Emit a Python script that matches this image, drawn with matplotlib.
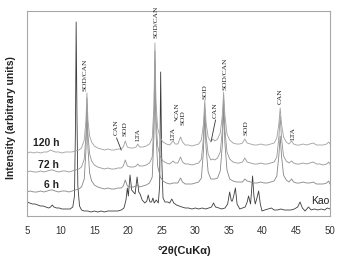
import matplotlib
matplotlib.use("Agg")
import matplotlib.pyplot as plt

# XRD patterns: 2theta (deg) and intensity (arbitrary, stacked)
tt_120h = [5.0, 5.5, 6.0, 6.5, 7.0, 7.5, 8.0, 8.5, 8.8, 9.2, 9.7, 10.2, 10.7, 11.2, 11.7, 12.2, 12.7,
           13.1, 13.5, 13.75, 13.9, 14.05, 14.3, 14.6, 15.0, 15.5, 16.0, 16.5, 17.0, 17.5, 18.0, 18.5,
           19.0, 19.3, 19.6, 19.9, 20.3, 20.8, 21.2, 21.45, 21.7, 22.2, 22.7, 23.2, 23.6, 23.85, 24.0,
           24.15, 24.4, 24.8, 25.2, 25.7, 26.2, 26.7, 27.0, 27.4, 27.8, 28.1, 28.5, 29.0, 29.5, 30.0,
           30.5, 30.9, 31.2, 31.4, 31.6, 31.9, 32.3, 32.6, 32.9, 33.3, 33.7, 34.0, 34.2, 34.4, 34.7,
           35.1, 35.6, 36.1, 36.6, 37.0, 37.35, 37.7, 38.2, 38.7, 39.2, 39.7, 40.2, 40.7, 41.2, 41.7,
           42.1, 42.4, 42.6, 42.8, 43.1, 43.5, 43.9, 44.3, 44.6, 45.0, 45.5, 46.0, 46.5, 47.0, 47.5,
           48.0, 48.5, 49.0, 49.5, 49.8, 50.0]
i_120h = [63, 64, 63, 64, 63, 64, 64, 66, 65, 64, 64, 63, 64, 64, 64, 65, 66,
          68, 76, 95, 123, 96, 80, 74, 70, 68, 67, 66, 67, 66, 66, 67,
          67, 69, 75, 69, 68, 68, 69, 72, 69, 69, 70, 72, 78, 110, 173,
          115, 88, 78, 74, 72, 71, 75, 72, 72, 79, 74, 71, 71, 70, 71,
          72, 76, 92, 116, 93, 79, 74, 77, 75, 77, 83, 100, 124, 100, 82,
          76, 73, 72, 72, 73, 77, 73, 72, 71, 71, 72, 71, 71, 72, 73,
          78, 92, 108, 92, 79, 74, 72, 75, 72, 71, 71, 72, 71, 72, 73,
          71, 71, 71, 72, 74, 72]

tt_72h = [5.0, 5.5, 6.0, 6.5, 7.0, 7.5, 8.0, 8.5, 8.8, 9.2, 9.7, 10.2, 10.7, 11.2, 11.7, 12.2, 12.7,
          13.1, 13.5, 13.75, 13.9, 14.05, 14.3, 14.6, 15.0, 15.5, 16.0, 16.5, 17.0, 17.5, 18.0, 18.5,
          19.0, 19.3, 19.6, 19.9, 20.3, 20.8, 21.2, 21.45, 21.7, 22.2, 22.7, 23.2, 23.6, 23.85, 24.0,
          24.15, 24.4, 24.8, 25.2, 25.7, 26.2, 26.7, 27.0, 27.4, 27.8, 28.1, 28.5, 29.0, 29.5, 30.0,
          30.5, 30.9, 31.2, 31.4, 31.6, 31.9, 32.3, 32.6, 32.9, 33.3, 33.7, 34.0, 34.2, 34.4, 34.7,
          35.1, 35.6, 36.1, 36.6, 37.0, 37.35, 37.7, 38.2, 38.7, 39.2, 39.7, 40.2, 40.7, 41.2, 41.7,
          42.1, 42.4, 42.6, 42.8, 43.1, 43.5, 43.9, 44.3, 44.6, 45.0, 45.5, 46.0, 46.5, 47.0, 47.5,
          48.0, 48.5, 49.0, 49.5, 49.8, 50.0]
i_72h = [44, 45, 44, 44, 45, 44, 45, 46, 46, 45, 44, 45, 45, 44, 45, 46, 47,
         49, 57, 80, 118, 82, 62, 55, 51, 49, 48, 47, 48, 47, 47, 48,
         48, 50, 56, 50, 49, 49, 50, 52, 50, 50, 51, 53, 59, 95, 165,
         100, 70, 59, 55, 53, 52, 55, 53, 53, 59, 54, 52, 52, 51, 52,
         53, 57, 78, 108, 80, 62, 56, 57, 56, 58, 64, 85, 116, 86, 64,
         57, 54, 53, 53, 54, 58, 54, 53, 52, 52, 53, 52, 52, 53, 54,
         59, 78, 100, 78, 60, 55, 53, 55, 53, 52, 52, 53, 52, 53, 54,
         52, 52, 51, 52, 54, 52]

tt_6h = [5.0, 5.5, 6.0, 6.5, 7.0, 7.5, 8.0, 8.5, 8.8, 9.2, 9.7, 10.2, 10.7, 11.2, 11.7, 12.2, 12.7,
         13.1, 13.5, 13.75, 13.9, 14.05, 14.3, 14.6, 15.0, 15.5, 16.0, 16.5, 17.0, 17.5, 18.0, 18.5,
         19.0, 19.3, 19.6, 19.9, 20.3, 20.8, 21.2, 21.45, 21.7, 22.2, 22.7, 23.2, 23.6, 23.85, 24.0,
         24.15, 24.4, 24.8, 25.2, 25.7, 26.2, 26.7, 27.0, 27.4, 27.8, 28.1, 28.5, 29.0, 29.5, 30.0,
         30.5, 30.9, 31.2, 31.4, 31.6, 31.9, 32.3, 32.6, 32.9, 33.3, 33.7, 34.0, 34.2, 34.4, 34.7,
         35.1, 35.6, 36.1, 36.6, 37.0, 37.35, 37.7, 38.2, 38.7, 39.2, 39.7, 40.2, 40.7, 41.2, 41.7,
         42.1, 42.4, 42.6, 42.8, 43.1, 43.5, 43.9, 44.3, 44.6, 45.0, 45.5, 46.0, 46.5, 47.0, 47.5,
         48.0, 48.5, 49.0, 49.5, 49.8, 50.0]
i_6h = [24, 25, 24, 24, 25, 24, 25, 26, 26, 25, 24, 25, 25, 24, 25, 26, 27,
        29, 37, 65, 110, 68, 43, 35, 31, 29, 28, 27, 28, 27, 27, 28,
        28, 30, 36, 30, 29, 29, 30, 31, 29, 30, 31, 33, 39, 80, 155,
        85, 50, 39, 35, 33, 32, 33, 33, 33, 38, 34, 32, 32, 32, 33,
        34, 38, 65, 100, 68, 44, 37, 37, 37, 38, 45, 70, 108, 72, 46,
        37, 35, 34, 34, 34, 37, 35, 34, 33, 33, 34, 33, 33, 34, 35,
        40, 60, 80, 60, 41, 36, 34, 37, 34, 33, 33, 34, 33, 33, 34,
        32, 32, 32, 33, 35, 32]

tt_kao = [5.0, 5.4, 5.8, 6.2, 6.6, 7.0, 7.4, 7.8, 8.2, 8.5, 8.75, 9.0, 9.4, 9.8, 10.2, 10.6, 11.0,
          11.4, 11.8, 12.05, 12.2, 12.3, 12.42, 12.55, 12.8, 13.1, 13.5, 14.0, 14.5, 15.0, 15.5, 16.0,
          16.5, 17.0, 17.5, 18.0, 18.5, 19.0, 19.4, 19.7, 19.9, 20.05, 20.3, 20.55, 20.8, 21.05, 21.35,
          21.6, 21.8, 22.1, 22.5, 22.8, 23.0, 23.25, 23.5, 23.7, 23.9, 24.2, 24.5, 24.7, 24.85, 25.0,
          25.2, 25.5, 25.9, 26.2, 26.5, 26.8, 27.2, 27.6, 28.0, 28.5, 29.0, 29.5, 30.0, 30.5, 31.0,
          31.5, 32.0, 32.4, 32.7, 33.0, 33.5, 33.9, 34.4, 34.8, 35.1, 35.35, 35.5, 35.7, 35.95, 36.2,
          36.6, 37.0, 37.4, 37.7, 37.9, 38.2, 38.35, 38.5, 38.7, 38.9, 39.15, 39.4, 39.65, 39.9, 40.3,
          40.8, 41.3, 41.7, 42.2, 42.7, 43.2, 43.7, 44.2, 44.7, 45.2, 45.55, 45.9, 46.3, 46.8, 47.2,
          47.7, 48.2, 48.7, 49.2, 49.6, 50.0]
i_kao = [14, 13, 12, 12, 11, 10, 10, 9, 8, 9, 11, 9, 8, 8, 7, 7, 7,
         7, 9, 20, 90, 194, 100, 30, 10, 6, 5, 5, 4, 5, 4, 5,
         4, 5, 5, 5, 5, 6, 8, 16, 28, 20, 41, 26, 24, 22, 39,
         24, 22, 16, 13, 15, 21, 14, 14, 18, 13, 16, 13, 30, 144, 60,
         18, 14, 14, 13, 17, 13, 11, 10, 9, 8, 8, 7, 8, 7, 8,
         7, 8, 9, 13, 9, 8, 7, 8, 12, 24, 15, 15, 20, 28, 12,
         7, 8, 9, 14, 20, 12, 25, 40, 20, 12, 18, 25, 12, 5, 6,
         7, 8, 6, 6, 7, 6, 6, 6, 7, 9, 14, 8, 5, 9, 6,
         7, 6, 7, 6, 8, 7]

# phase labels above the peaks: text, 2theta, intensity at label foot
phase_text = ["SOD/CAN", "CAN", "SOD", "LTA", "SOD/CAN", "LTA", "CAN", "SOD",
              "SOD", "CAN", "SOD/CAN", "SOD", "CAN", "LTA"]
phase_tt = [13.6, 18.2, 19.5, 21.45, 24.1, 26.65, 27.3, 28.2,
            31.4, 33.0, 34.35, 37.5, 42.65, 44.5]
phase_i = [125, 81, 80, 75, 178, 76, 98, 91,
           117, 98, 126, 81, 112, 76]

# short leader lines (2theta pairs, intensity pairs)
leader_tt = [[18.3, 19.0], [26.9, 27.25], [33.0, 32.35]]
leader_i = [[78, 66], [95, 97], [96, 75]]

series_labels = ["120 h", "72 h", "6 h"]
series_label_i = [72.5, 51, 31]

fig = plt.figure(figsize=(3.43, 2.58), dpi=100)
ax = fig.add_axes([27 / 343, 42 / 258, 303 / 343, 205 / 258])

ax.plot(tt_kao, i_kao, color="#3c3c3c", lw=0.6)
ax.plot(tt_6h, i_6h, color="#858585", lw=0.6)
ax.plot(tt_72h, i_72h, color="#959595", lw=0.6)
ax.plot(tt_120h, i_120h, color="#a0a0a0", lw=0.6)

for t, x, y in zip(phase_text, phase_tt, phase_i):
    ax.text(x, y, t, rotation=90, ha="center", va="bottom", fontsize=5.3,
            family="Liberation Serif", color="#222222")
for xs, ys in zip(leader_tt, leader_i):
    ax.plot(xs, ys, color="#333333", lw=0.6)

for t, y in zip(series_labels, series_label_i):
    ax.text(9.8, y, t, ha="right", va="center", fontsize=7.5, fontweight="bold",
            family="Liberation Sans", color="#222222")
ax.text(49.85, 15, "Kao", ha="right", va="center", fontsize=7.5,
        family="Liberation Sans", color="#222222")

ax.set_xlim(5, 50)
ax.set_ylim(0, 205)
ax.set_xticks([5, 10, 15, 20, 25, 30, 35, 40, 45, 50])
ax.set_yticks([])
ax.tick_params(axis="x", length=0, pad=7, labelsize=7, labelcolor="#333333")
for lab in ax.get_xticklabels():
    lab.set_family("Liberation Sans")
for s in ax.spines.values():
    s.set_color("#a8a8a8")
    s.set_linewidth(0.8)

ax.set_xlabel("°2θ(CuKα)", fontsize=8, fontweight="bold", family="Liberation Sans",
              color="#222222")
ax.xaxis.set_label_coords(0.52, -0.145)
ax.set_ylabel("Intensity (arbitrary units)", fontsize=7.5, fontweight="bold",
              family="Liberation Sans", color="#222222")
ax.yaxis.set_label_coords(-0.035, 0.48)

fig.savefig("out.png", dpi=100)
